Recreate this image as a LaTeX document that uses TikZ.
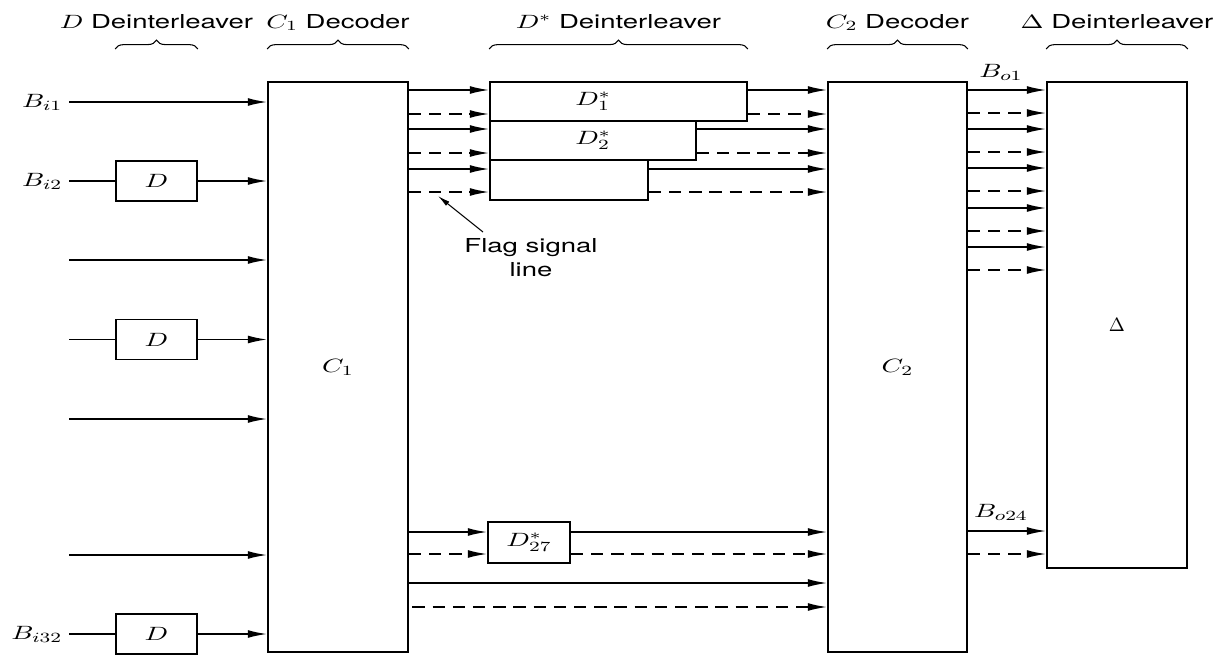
\documentclass[tikz,border=0pt,11pt]{standalone}
\usepackage{fontspec}
\setsansfont{TeX Gyre Heros}
\usepackage{graphicx}
\usetikzlibrary{arrows.meta,decorations.pathreplacing}
\newcommand{\sx}[1]{\scalebox{1.43}[1]{#1}}
\tikzset{
  blk/.style={draw, line width=1pt, inner sep=0pt},
  sig/.style={line width=0.9pt, -{Latex[length=11pt,width=4.5pt]}},
  flg/.style={sig, dash pattern=on 7pt off 4.5pt},
  brc/.style={decorate, decoration={brace, amplitude=5pt}, line width=0.6pt},
  ttl/.style={font=\sffamily, anchor=base, inner sep=0pt},
}
\begin{document}
\begin{tikzpicture}[x=0.02cm, y=-0.02cm]
  \useasboundingbox (0,0) rectangle (1225,656);
  % decoders and deinterleavers
  \node[blk, minimum width=2.8cm, minimum height=11.4cm] (c1) at (338,367) {\sx{$C_1$}};
  \node[blk, minimum width=2.78cm, minimum height=11.4cm] (c2) at (897.5,367) {\sx{$C_2$}};
  \node[blk, minimum width=2.8cm, minimum height=9.72cm] (dl) at (1117,325) {$\Delta$};
  \foreach \n/\y in {2/181,4/339.5,32/634}
    \node[blk, minimum width=1.62cm, minimum height=0.8cm] (d\n) at (156.5,\y) {\sx{$D$}};
  \node[blk, minimum width=5.14cm, minimum height=0.78cm] (s1) at (618.5,101.5) {};
  \node[blk, minimum width=4.12cm, minimum height=0.78cm] (s2) at (593,140.5) {\sx{$D_2^*$}};
  \node[blk, minimum width=3.16cm, minimum height=0.8cm] (s3) at (569,180) {};
  \node[blk, minimum width=1.64cm, minimum height=0.82cm] (s27) at (529,542.5) {\sx{$D_{27}^*$}};
  \node (s1t) at (s2.center |- s1.center) {\sx{$D_1^*$}};

  % column titles
  \foreach \b/\t in {d2/{$D$ Deinterleaver}, c1/{$C_1$ Decoder}, s1/{$D^*$ Deinterleaver},
                     c2/{$C_2$ Decoder}, dl/{$\Delta$ Deinterleaver}} {
    \draw[brc] (\b.west |- 0,49) -- (\b.east |- 0,49);
    \node[ttl] (t\b) at (\b.center |- 0,28) {\sx{\t}};
  }

  % inputs
  \foreach \n/\y in {1/102,2/181,3/260,4/339.5,5/419,6/555,32/634}
    \coordinate (i\n) at (69,\y);
  \node[anchor=east] (bi1) at (i1) {\sx{$B_{i1}$}};
  \node[anchor=east] (bi2) at (i2) {\sx{$B_{i2}$}};
  \node[anchor=east] (bi32) at (i32) {\sx{$B_{i32}$}};
  \foreach \n in {1,3,5,6}
    \draw[sig] (i\n) -- (i\n -| c1.west);
  \foreach \n in {2,4,32} {
    \draw[line width=0.9pt] (i\n) -- (d\n.west);
    \draw[sig] (d\n.east) -- (d\n.east -| c1.west);
  }

  % C1 -> D* -> C2
  \foreach \y/\z/\b in {90/114/s1,129/153/s2,169/192/s3} {
    \draw[sig] (c1.east |- 0,\y) -- (\b.west |- 0,\y);
    \draw[flg] (c1.east |- 0,\z) -- (\b.west |- 0,\z);
    \draw[sig] (\b.east |- 0,\y) -- (c2.west |- 0,\y);
    \draw[flg] (\b.east |- 0,\z) -- (c2.west |- 0,\z);
  }
  \draw[sig] (c1.east |- 0,532) -- (s27.west |- 0,532);
  \draw[flg] (c1.east |- 0,554) -- (s27.west |- 0,554);
  \draw[sig] (s27.east |- 0,532) -- (c2.west |- 0,532);
  \draw[flg] (s27.east |- 0,554) -- (c2.west |- 0,554);
  \draw[sig] (c1.east |- 0,583) -- (c2.west |- 0,583);
  \draw[flg] ([xshift=2pt]c1.east |- 0,607) -- (c2.west |- 0,607);

  % C2 -> Delta
  \foreach \y [evaluate=\y as \z using \y+23] in {90,129,168,208,247} {
    \draw[sig] (c2.east |- 0,\y) -- (dl.west |- 0,\y);
    \draw[flg] (c2.east |- 0,\z) -- (dl.west |- 0,\z);
  }
  \draw[sig] (c2.east |- 0,531) -- (dl.west |- 0,531);
  \draw[flg] (c2.east |- 0,554) -- (dl.west |- 0,554);
  \node (bo1) at (1001,72) {\sx{$B_{o1}$}};
  \node (bo24) at (1001,512) {\sx{$B_{o24}$}};

  % flag signal
  \node[font=\sffamily, align=center, inner sep=0pt] (flag) at (531,258) {\sx{Flag signal}\\\sx{line}};
  \coordinate (flt) at (483,232);
  \coordinate (flh) at (438,196);
  \draw[line width=0.6pt, -{Latex[length=7pt,width=3pt]}] (flt) -- (flh);
\end{tikzpicture}
\end{document}
